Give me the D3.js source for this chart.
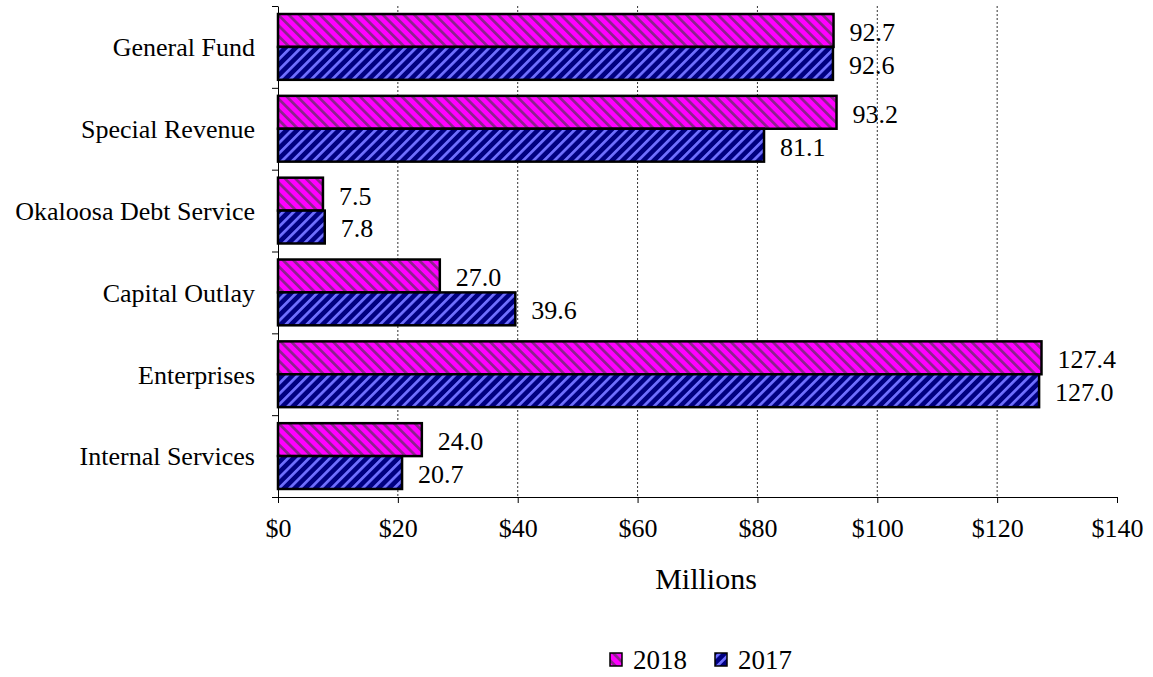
<!DOCTYPE html>
<html>
<head>
<meta charset="utf-8">
<script src="https://cdn.jsdelivr.net/npm/d3@7"></script>
<style>
  body { margin: 0; background: #fff; }
  text { font-family: "Liberation Serif", "Times New Roman", serif; fill: #000; }
</style>
</head>
<body>
<svg id="chart" width="1153" height="677"></svg>
<script>
const categories = ["General Fund", "Special Revenue", "Okaloosa Debt Service", "Capital Outlay", "Enterprises", "Internal Services"]
const seriesNames = ["2018", "2017"]
const values2018 = [92.7, 93.2, 7.5, 27.0, 127.4, 24.0]
const values2017 = [92.6, 81.1, 7.8, 39.6, 127.0, 20.7]
const xTicks = [0, 20, 40, 60, 80, 100, 120, 140]

const seriesValues = { "2018": values2018, "2017": values2017 }
const svg = d3.select("#chart")

const margins = { left: 278, right: 36, top: 6, bottom: 180 }
const plotWidth = 1117 - margins.left
const plotHeight = 497 - margins.top
const serif = "Liberation Serif, Times New Roman, serif"

// hatch patterns
const defs = svg.append("defs")
const hatch = [
    { id: "hatch2018", bg: "#ff00ff", fg: "#8c238c", angle: -45 },
    { id: "hatch2017", bg: "#000080", fg: "#7070ff", angle: 45 }
]
hatch.forEach(h => {
    const p = defs.append("pattern")
        .attr("id", h.id)
        .attr("patternUnits", "userSpaceOnUse")
        .attr("width", 7.4)
        .attr("height", 7.4)
        .attr("patternTransform", `rotate(${h.angle})`)
    p.append("rect").attr("width", 7.4).attr("height", 7.4).attr("fill", h.bg)
    p.append("rect").attr("width", 2.7).attr("height", 7.4).attr("fill", h.fg)
})
const fillFor = { "2018": "url(#hatch2018)", "2017": "url(#hatch2017)" }

const xScale = d3.scaleLinear()
    .domain([0, 140])
    .range([0, plotWidth])
const yScale = d3.scaleBand()
    .domain(categories)
    .range([0, plotHeight])
    .paddingInner(0.196)
    .paddingOuter(0.098)
const ySub = d3.scaleBand()
    .domain(seriesNames)
    .range([0, yScale.bandwidth()])
const yBounds = d3.scaleLinear()
    .domain([0, categories.length])
    .range([0, plotHeight])

const plot = svg.append("g")
    .attr("transform", `translate(${margins.left},${margins.top})`)

// gridlines
plot.append("g")
    .selectAll("line")
    .data(xTicks.filter(d => d > 0 && d < 140))
    .enter()
    .append("line")
    .attr("x1", d => xScale(d))
    .attr("x2", d => xScale(d))
    .attr("y1", 0)
    .attr("y2", plotHeight)
    .attr("stroke", "#333")
    .attr("stroke-width", 1)
    .attr("stroke-dasharray", "2,2")

// bars
categories.forEach((cat, i) => {
    seriesNames.forEach(s => {
        const v = seriesValues[s][i]
        const y = yScale(cat) + ySub(s)
        plot.append("rect")
            .attr("x", xScale(0))
            .attr("y", y)
            .attr("width", xScale(v) - xScale(0))
            .attr("height", ySub.bandwidth())
            .attr("fill", fillFor[s])
            .attr("stroke", "#000")
            .attr("stroke-width", 2.5)
        plot.append("text")
            .attr("x", xScale(v) + 16)
            .attr("y", y + ySub.bandwidth() / 2)
            .attr("dy", "0.4em")
            .attr("font-size", 26)
            .text(v.toFixed(1))
    })
})

// x axis
const xAxis = plot.append("g")
    .attr("transform", `translate(0,${plotHeight})`)
    .call(d3.axisBottom(xScale)
        .tickValues(xTicks)
        .tickFormat(d => "$" + d)
        .tickSize(6)
        .tickSizeOuter(0)
        .tickPadding(16))
xAxis.selectAll("text")
    .attr("font-size", 26)
    .attr("font-family", serif)
xAxis.selectAll("line,path").attr("stroke", "#000")

// y axis line and boundary ticks
const yAxis = plot.append("g")
    .call(d3.axisLeft(yBounds)
        .tickValues(d3.range(categories.length + 1))
        .tickFormat("")
        .tickSize(6)
        .tickSizeOuter(0))
yAxis.selectAll("line,path").attr("stroke", "#000")

// category labels
const yLabels = plot.append("g")
    .call(d3.axisLeft(yScale).tickSize(0).tickPadding(23))
yLabels.select(".domain").remove()
yLabels.selectAll("text")
    .attr("font-size", 26)
    .attr("font-family", serif)
    .attr("dy", "0.36em")

// axis title
svg.append("text")
    .attr("x", 706)
    .attr("y", 589)
    .attr("text-anchor", "middle")
    .attr("font-size", 30)
    .text("Millions")

// legend
const legendItems = [
    { name: "2018", x: 610 },
    { name: "2017", x: 715 }
]
const legend = svg.append("g")
legendItems.forEach(item => {
    legend.append("rect")
        .attr("x", item.x)
        .attr("y", 653)
        .attr("width", 12)
        .attr("height", 13)
        .attr("fill", fillFor[item.name])
        .attr("stroke", "#000")
        .attr("stroke-width", 1.5)
    legend.append("text")
        .attr("x", item.x + 23)
        .attr("y", 669)
        .attr("font-size", 27)
        .text(item.name)
})
</script>
</body>
</html>
